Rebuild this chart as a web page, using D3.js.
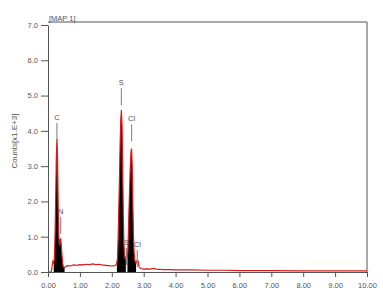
<!DOCTYPE html>
<html>
<head>
<meta charset="utf-8">
<script src="https://cdn.jsdelivr.net/npm/d3@7"></script>
<style>
  body { margin: 0; background: #fff; }
  text { font-family: "Liberation Sans", Arial, sans-serif; fill: #555; }
</style>
</head>
<body>
<div id="chart"></div>
<script>
// spectrum: energy (keV) and counts (x1000)
var energy = [0.00, 0.10, 0.12, 0.15, 0.18, 0.20, 0.22, 0.24, 0.26, 0.28, 0.30, 0.32, 0.34, 0.36, 0.38, 0.40,
  0.42, 0.44, 0.46, 0.48, 0.50, 0.55, 0.60, 0.70, 0.80, 0.90, 1.00, 1.10, 1.20, 1.30, 1.40, 1.50, 1.60, 1.70,
  1.80, 1.90, 2.00, 2.10, 2.15, 2.18, 2.20, 2.22, 2.24, 2.26, 2.28, 2.30, 2.32, 2.34, 2.36, 2.38, 2.40, 2.42,
  2.44, 2.46, 2.48, 2.50, 2.52, 2.54, 2.56, 2.58, 2.60, 2.62, 2.64, 2.66, 2.68, 2.70, 2.72, 2.74, 2.76, 2.78,
  2.80, 2.82, 2.84, 2.86, 2.90, 3.00, 3.10, 3.20, 3.30, 3.40, 3.60, 3.80, 4.00, 4.50, 5.00, 5.50, 6.00, 7.00,
  8.00, 9.00, 10.00];
var counts = [0.00, 0.00, 0.10, 0.30, 0.25, 0.40, 1.00, 2.00, 3.20, 3.77, 3.20, 1.80, 1.00, 0.75, 0.90, 0.95,
  0.70, 0.45, 0.25, 0.15, 0.12, 0.15, 0.18, 0.17, 0.20, 0.19, 0.21, 0.20, 0.22, 0.21, 0.23, 0.21, 0.22, 0.20,
  0.19, 0.18, 0.17, 0.18, 0.22, 0.40, 1.00, 1.80, 2.60, 3.60, 4.30, 4.59, 4.20, 3.00, 1.60, 0.80, 0.45, 0.38,
  0.42, 0.45, 0.40, 0.55, 1.10, 1.80, 2.40, 3.00, 3.40, 3.50, 3.00, 1.90, 1.00, 0.55, 0.35, 0.28, 0.25, 0.30,
  0.34, 0.32, 0.22, 0.14, 0.10, 0.08, 0.09, 0.08, 0.10, 0.08, 0.07, 0.07, 0.06, 0.06, 0.05, 0.05, 0.04, 0.04,
  0.03, 0.03, 0.03];

// integration windows shown in black
var roiStart = [0.18, 2.16, 2.49];
var roiEnd = [0.52, 2.44, 2.76];

// peak markers
var peakNames = ["C", "N", "S", "Cl", "S", "Cl"];
var peakEnergy = [0.28, 0.40, 2.30, 2.62, 2.46, 2.80];
var peakMark = [4.22, 1.56, 5.21, 4.19, 0.68, 0.62];

var xTicks = [0, 1, 2, 3, 4, 5, 6, 7, 8, 9, 10];
var yTicks = [0, 1, 2, 3, 4, 5, 6, 7];

var width = 383, height = 297;
var margin = { top: 22, right: 16, bottom: 25, left: 48 };

var svg = d3.select("#chart").append("svg")
    .attr("width", width)
    .attr("height", height);

var x = d3.scaleLinear().domain([0, 10]).range([margin.left, width - margin.right]);
var y = d3.scaleLinear().domain([0, 7]).range([height - margin.bottom, margin.top + 3]);

var pts = energy.map(function(e, i) { return [e, counts[i]]; });

// frame (top and right)
svg.append("path")
    .attr("d", "M" + x(0) + "," + margin.top + "H" + x(10) + "V" + y(0))
    .attr("fill", "none")
    .attr("stroke", "#555")
    .attr("stroke-width", 1);

// black windows under the curve
var defs = svg.append("defs");
roiStart.forEach(function(s, i) {
    defs.append("clipPath").attr("id", "roi" + i)
        .append("rect")
        .attr("x", x(s)).attr("y", 0)
        .attr("width", x(roiEnd[i]) - x(s))
        .attr("height", height);
});

var area = d3.area()
    .x(function(d) { return x(d[0]); })
    .y0(y(0))
    .y1(function(d) { return y(d[1]); });

roiStart.forEach(function(s, i) {
    svg.append("path")
        .attr("d", area(pts))
        .attr("fill", "#000")
        .attr("clip-path", "url(#roi" + i + ")");
});

var line = d3.line()
    .x(function(d) { return x(d[0]); })
    .y(function(d) { return y(d[1]); });

svg.append("path")
    .attr("d", line(pts))
    .attr("fill", "none")
    .attr("stroke", "#d81c1c")
    .attr("stroke-width", 1.2);

// axes
var xAxis = svg.append("g")
    .attr("transform", "translate(0," + y(0) + ")")
    .call(d3.axisBottom(x).tickValues(xTicks).tickSize(5).tickSizeOuter(0)
        .tickFormat(function(d) { return d3.format(".2f")(d); }));

var yAxis = svg.append("g")
    .attr("transform", "translate(" + x(0) + ",0)")
    .call(d3.axisLeft(y).tickValues(yTicks).tickSize(7).tickSizeOuter(0)
        .tickFormat(d3.format(".1f")));

[xAxis, yAxis].forEach(function(g) {
    g.select(".domain").attr("stroke", "#555");
    g.selectAll(".tick line").attr("stroke", "#555");
    g.selectAll(".tick text").style("font-size", "7.5px").attr("fill", "#555");
});
xAxis.selectAll(".tick text").attr("dy", "1.1em");

// peak labels
peakNames.forEach(function(n, i) {
    var top = y(peakMark[i]);
    svg.append("line")
        .attr("x1", x(peakEnergy[i])).attr("x2", x(peakEnergy[i]))
        .attr("y1", top).attr("y2", top + 17)
        .attr("stroke", "#888").attr("stroke-width", 1.1);
    svg.append("text")
        .attr("x", x(peakEnergy[i]))
        .attr("y", top - 3)
        .attr("text-anchor", "middle")
        .style("font-size", "7.5px")
        .text(n);
});

svg.append("text")
    .attr("x", x(0) + 1)
    .attr("y", margin.top - 1)
    .style("font-size", "7.5px")
    .text("[MAP 1]");

svg.append("text")
    .attr("transform", "translate(17,141) rotate(-90)")
    .attr("text-anchor", "middle")
    .style("font-size", "8px")
    .text("Counts[x1.E+3]");
</script>
</body>
</html>
